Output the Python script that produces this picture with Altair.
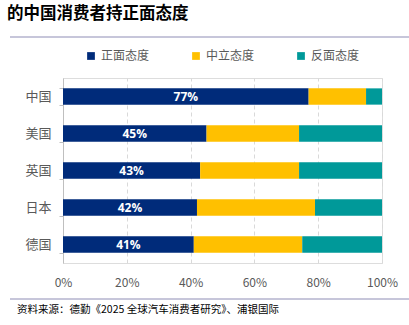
import altair as alt
import pandas as pd

countries = ["中国", "美国", "英国", "日本", "德国"]
positive = [77, 45, 43, 42, 41]
neutral = [18, 29, 31, 37, 34]
negative = [5, 26, 26, 21, 25]
series = ["正面态度", "中立态度", "反面态度"]
colors = ["#002B7A", "#FFC000", "#009999"]
title_text = "的中国消费者持正面态度"
source_text = "资料来源：德勤《2025 全球汽车消费者研究》、浦银国际"

rows = []
for i, c in enumerate(countries):
    for j, (s, vals) in enumerate(zip(series, [positive, neutral, negative])):
        rows.append({"country": c, "series": s, "value": vals[i] / 100, "order": j})
df = pd.DataFrame(rows)
lab = pd.DataFrame({"country": countries, "value": [p / 100 for p in positive],
                    "label": [f"{p}%" for p in positive]})

FONT = "Noto Sans CJK SC"

y_enc = alt.Y("country:N", sort=countries, title=None,
              scale=alt.Scale(paddingInner=0.56, paddingOuter=0.28),
              axis=alt.Axis(labelColor="#595959", labelFontSize=13, labelFont=FONT,
                            labelFontWeight="normal",
                            domainColor="#BFBFBF", tickColor="#BFBFBF", tickSize=4,
                            tickBand="extent", labelPadding=8, grid=False))

bars = alt.Chart(df).mark_bar().encode(
    x=alt.X("value:Q", stack="zero", title=None,
            scale=alt.Scale(domain=[0, 1], nice=False),
            axis=alt.Axis(format=".0%", values=[0, 0.2, 0.4, 0.6, 0.8, 1.0],
                          labelColor="#595959", labelFontSize=12, labelFont=FONT,
                          labelFlush=False,
                          domain=False, ticks=False, grid=True, gridDash=[4, 3],
                          gridColor="#D9D9D9", labelPadding=14)),
    y=y_enc,
    color=alt.Color("series:N", sort=series,
                    scale=alt.Scale(domain=series, range=colors),
                    legend=alt.Legend(title=None, orient="none", direction="horizontal",
                                      legendX=22, legendY=-28, symbolType="square",
                                      symbolSize=60, labelFontSize=12, labelFont=FONT,
                                      labelColor="#595959", columnPadding=40,
                                      symbolStrokeWidth=0)),
    order=alt.Order("order:Q"),
)

labels = alt.Chart(lab).mark_text(color="white", fontWeight="bold", fontSize=12,
                                  font="Open Sans").encode(
    x=alt.X("v2:Q"),
    y=alt.Y("country:N", sort=countries),
    text="label:N",
).transform_calculate(v2="datum.value / 2")

title = alt.Chart(pd.DataFrame({"t": [title_text]})).mark_text(
    align="left", baseline="middle", fontSize=16.5, fontWeight="bold", font=FONT,
    color="#000000").encode(x=alt.value(-56), y=alt.value(-64), text="t:N")

top_line = alt.Chart(pd.DataFrame({"a": [0]})).mark_rule(color="#8E8DB5", strokeWidth=1).encode(
    x=alt.value(-53), x2=alt.value(346), y=alt.value(-41))
bot_line = alt.Chart(pd.DataFrame({"a": [0]})).mark_rule(color="#8E8DB5", strokeWidth=1).encode(
    x=alt.value(-53), x2=alt.value(346), y=alt.value(221))

source = alt.Chart(pd.DataFrame({"t": [source_text]})).mark_text(
    align="left", baseline="middle", fontSize=10.5, font=FONT, color="#000000").encode(
    x=alt.value(-46), y=alt.value(232), text="t:N")

chart = alt.layer(bars, labels, title, top_line, bot_line, source).properties(
    width=319, height=185,
    autosize=alt.AutoSizeParams(type="none"),
    padding={"left": 63, "top": 78, "right": 27, "bottom": 62},
).configure_view(stroke=None).configure(background="white")

chart.save("out.html", embed_options={"renderer": "svg", "actions": False})
